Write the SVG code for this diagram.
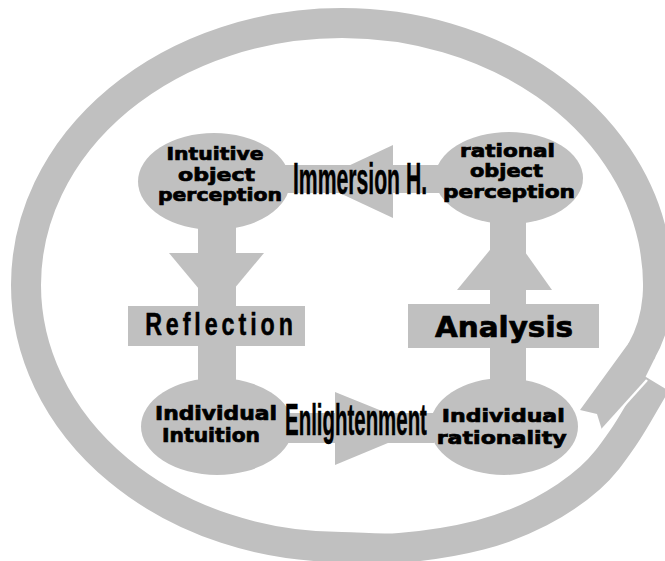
<svg xmlns="http://www.w3.org/2000/svg" width="665" height="561" viewBox="0 0 665 561">
<style>
.g{fill:#c0c0c0}
.ring{fill:none;stroke:#c0c0c0;stroke-width:30;stroke-linecap:butt}
.nt{font-family:"DejaVu Sans","Liberation Sans",sans-serif;font-weight:bold;fill:#000;stroke:#000;stroke-width:0.7;text-anchor:middle}
.ct{font-family:"Liberation Sans",Arial,sans-serif;font-weight:bold;fill:#000;stroke:#000;stroke-width:0.5;text-anchor:middle}
</style>
<rect width="665" height="561" fill="#fff"/>
<g id="cycle">
<path class="ring" d="M 656 383 C 645 401.3, 634 422.2, 623 438 C 612 453.8, 603.8 465.7, 590 478 C 576.2 490.3, 558.3 502.5, 540 512 C 521.7 521.5, 503.3 529, 480 535 C 456.7 541, 423 546, 400 548 C 377 550, 361.3 547, 342 547 A 316 262 0 0 1 26 285 A 316 262 0 0 1 342 23 A 316 262 0 0 1 653.2 239.5 C 661 279, 661 317, 641 352"/>
<polygon class="g" points="629.5,342 580,410 597,414 602,430 640,388 655.5,356.8"/>
<line x1="601" y1="431" x2="647" y2="380" stroke="#fff" stroke-width="2.5"/>
</g>
<g id="node-intuitive-object-perception">
<ellipse class="g" cx="214" cy="181.5" rx="76" ry="48.5"/>
<text class="nt" x="215" y="160" font-size="17" textLength="97" lengthAdjust="spacingAndGlyphs">Intuitive</text>
<text class="nt" x="216.5" y="180.5" font-size="17" textLength="77" lengthAdjust="spacingAndGlyphs">object</text>
<text class="nt" x="220" y="201" font-size="17" textLength="124" lengthAdjust="spacingAndGlyphs">perception</text>
</g>
<g id="node-rational-object-perception">
<ellipse class="g" cx="509" cy="178" rx="74" ry="46"/>
<text class="nt" x="507.5" y="156.5" font-size="17" textLength="95" lengthAdjust="spacingAndGlyphs">rational</text>
<text class="nt" x="506.5" y="177" font-size="17" textLength="73" lengthAdjust="spacingAndGlyphs">object</text>
<text class="nt" x="509" y="197.5" font-size="17" textLength="132" lengthAdjust="spacingAndGlyphs">perception</text>
</g>
<g id="node-individual-intuition">
<ellipse class="g" cx="217" cy="426.5" rx="76" ry="48.5"/>
<text class="nt" x="216" y="420" font-size="19" textLength="122" lengthAdjust="spacingAndGlyphs">Individual</text>
<text class="nt" x="211" y="442" font-size="19" textLength="98" lengthAdjust="spacingAndGlyphs">Intuition</text>
</g>
<g id="node-individual-rationality">
<ellipse class="g" cx="504" cy="426.5" rx="74" ry="48.5"/>
<text class="nt" x="503.3" y="421.5" font-size="18.5" textLength="123" lengthAdjust="spacingAndGlyphs">Individual</text>
<text class="nt" x="501.7" y="443.5" font-size="18.5" textLength="130" lengthAdjust="spacingAndGlyphs">rationality</text>
</g>
<g id="connectors">
<g id="immersion">
<rect class="g" x="285" y="165" width="155" height="28"/>
<polygon class="g" points="393,145 393,218 315,181.5"/>
<text class="ct" transform="translate(360,194) scale(0.481,1)" x="0" y="0" font-size="44" textLength="279" lengthAdjust="spacingAndGlyphs">Immersion H.</text>
</g>
<g id="enlightenment">
<rect class="g" x="288" y="413" width="146" height="30"/>
<polygon class="g" points="335,392 335,465 424,428"/>
<text class="ct" transform="translate(356,435) scale(0.465,1)" x="0" y="0" font-size="44" textLength="305" lengthAdjust="spacingAndGlyphs">Enlightenment</text>
</g>
<g id="reflection">
<rect class="g" x="198" y="222" width="38" height="160"/>
<polygon class="g" points="169,253 264,253 216.5,310"/>
<rect class="g" x="128" y="306" width="177" height="40"/>
<text class="ct" transform="translate(219,335) scale(0.75,1)" x="0" y="0" font-size="31" textLength="197" lengthAdjust="spacing">Reflection</text>
</g>
<g id="analysis">
<rect class="g" x="490" y="218" width="36" height="164"/>
<polygon class="g" points="457,290 552,290 508,228"/>
<rect class="g" x="408" y="304" width="191" height="44"/>
<text class="nt" x="504" y="337" font-size="28" textLength="138" lengthAdjust="spacingAndGlyphs">Analysis</text>
</g>
</g>
</svg>
